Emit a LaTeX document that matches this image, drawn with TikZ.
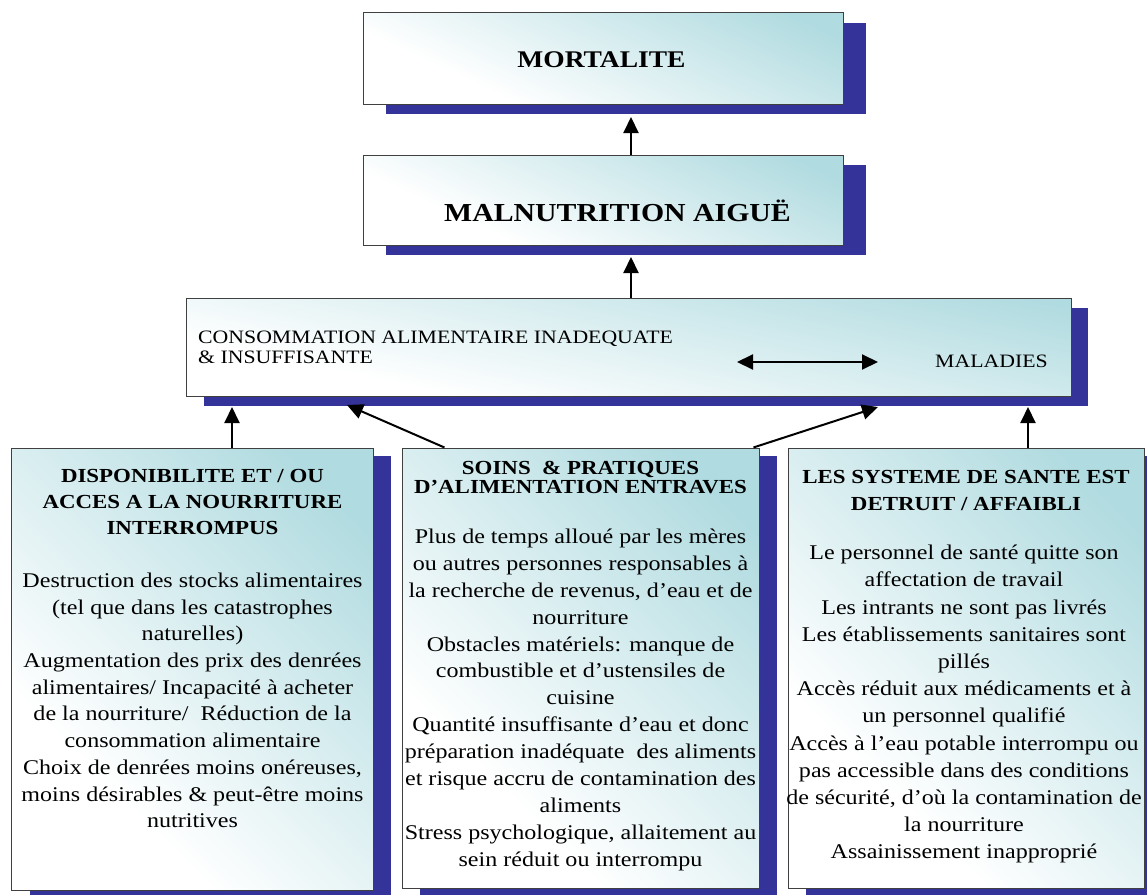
\documentclass[tikz,border=0pt]{standalone}
\usepackage{fontspec}
\newfontfamily\wide{Liberation Serif}[FakeStretch=1.15]
\usetikzlibrary{arrows.meta,shadows,calc}
\definecolor{shadowblue}{RGB}{51,51,153}
\definecolor{tealc}{RGB}{176,219,224}
\pgfdeclareverticalshading{boxshade}{100bp}{color(0bp)=(white); color(32bp)=(white); color(78bp)=(tealc); color(100bp)=(tealc)}
\begin{document}
\begin{tikzpicture}[x=1bp,y=-1bp,
  box/.style={draw=black!75, line width=1bp, shade, shading=boxshade, shading angle=-45, inner sep=0pt},
  shad/.style 2 args={drop shadow={shadow xshift=#1, shadow yshift=#2, fill=shadowblue, opacity=1}},
  txt/.style={inner sep=0pt, align=center, text=black},
  arr/.style={line width=2bp, -{Triangle[length=16bp,width=15bp]}},
  darr/.style={line width=2bp, {Triangle[length=16bp,width=15bp]}-{Triangle[length=16bp,width=15bp]}}
]
\useasboundingbox[fill=white] (0,0) rectangle (1147,895);

% boxes
\node[box, shading angle=-25, shad={23bp}{-10bp}, minimum width=480bp, minimum height=91bp] (mort) at (603,58.5) {};
\node[box, shading angle=-25, shad={23bp}{-10bp}, minimum width=480bp, minimum height=90bp] (mal) at (603,200) {};
\node[box, shading angle=-12, shad={17bp}{-10bp}, minimum width=884bp, minimum height=98bp] (cons) at (629,347) {};
\node[box, shad={18bp}{-8bp}, minimum width=361bp, minimum height=442bp] (disp) at (192.5,669) {};
\node[box, shad={18bp}{-8bp}, minimum width=357bp, minimum height=440bp] (soins) at (580.5,668) {};
\node[box, shad={18bp}{-8bp}, minimum width=356bp, minimum height=440bp] (sante) at (966,668) {};

% texts
\node[txt, anchor=base, font={\wide\bfseries\fontsize{24}{28}\selectfont}] (tmort) at (601.5,67) {MORTALITE};
\node[txt, anchor=base, font={\wide\bfseries\fontsize{26}{30}\selectfont}] (tmal) at (617.5,221) {MALNUTRITION AIGUË};
\node[txt, anchor=base west, font={\wide\fontsize{19}{20}\selectfont}] (tcons1) at (198,343) {CONSOMMATION ALIMENTAIRE INADEQUATE};
\node[txt, anchor=base west, font={\wide\fontsize{19}{20}\selectfont}] (tcons2) at (198,363) {\& INSUFFISANTE};
\node[txt, anchor=base west, font={\wide\fontsize{19}{20}\selectfont}] (tmala) at (935,367) {MALADIES};

\node[txt, anchor=north, font={\wide\bfseries\fontsize{20}{26}\selectfont}] (hdisp) at (192.5,469.5) {DISPONIBILITE ET / OU\\ACCES A LA NOURRITURE\\INTERROMPUS};
\node[txt, anchor=north, font={\wide\fontsize{21}{26.8}\selectfont}] (bdisp) at (192.5,572.7) {Destruction des stocks alimentaires\\(tel que dans les catastrophes\\naturelles)\\Augmentation des prix des denrées\\alimentaires/ Incapacité à acheter\\de la nourriture/ \ Réduction de la\\consommation alimentaire\\Choix de denrées moins onéreuses,\\moins désirables \& peut-être moins\\nutritives};

\node[txt, anchor=north, font={\wide\bfseries\fontsize{20}{18.5}\selectfont}] (hsoins) at (580.5,461.5) {SOINS \ \& PRATIQUES\\D’ALIMENTATION ENTRAVES};
\node[txt, anchor=north, font={\wide\fontsize{21}{27}\selectfont}] (bsoins) at (580.5,528.7) {Plus de temps alloué par les mères\\ou autres personnes responsables à\\la recherche de revenus, d’eau et de\\nourriture\\Obstacles matériels: manque de\\combustible et d’ustensiles de\\cuisine\\Quantité insuffisante d’eau et donc\\préparation inadéquate \ des aliments\\et risque accru de contamination des\\aliments\\Stress psychologique, allaitement au\\sein réduit ou interrompu};

\node[txt, anchor=north, font={\wide\bfseries\fontsize{20}{28}\selectfont}] (hsante) at (966,469.7) {LES SYSTEME DE SANTE EST\\DETRUIT / AFFAIBLI};
\node[txt, anchor=north, font={\wide\fontsize{21}{27.3}\selectfont}] (bsante) at (964,545) {Le personnel de santé quitte son\\affectation de travail\\Les intrants ne sont pas livrés\\Les établissements sanitaires sont\\pillés\\Accès réduit aux médicaments et à\\un personnel qualifié\\Accès à l’eau potable interrompu ou\\pas accessible dans des conditions\\de sécurité, d’où la contamination de\\la nourriture\\Assainissement inapproprié};

% connectors
\coordinate (t1) at (631,117);
\draw[arr] (t1 |- mal.north) -- (t1);
\coordinate (t2) at (631,257);
\draw[arr] (t2 |- cons.north) -- (t2);
\coordinate (t3) at (232,407);
\draw[arr] (t3 |- disp.north) -- (t3);
\coordinate (t4) at (347,405);
\draw[arr] ($(soins.north west)!0.12!(soins.north east)$) -- (t4);
\coordinate (t5) at (878,407);
\draw[arr] ($(soins.north west)!0.983!(soins.north east)$) -- (t5);
\coordinate (t6) at (1028,407);
\draw[arr] (t6 |- sante.north) -- (t6);
\coordinate (d1) at (737,362);
\coordinate (d2) at (878,362);
\draw[darr] (d1) -- (d2);
\end{tikzpicture}
\end{document}
